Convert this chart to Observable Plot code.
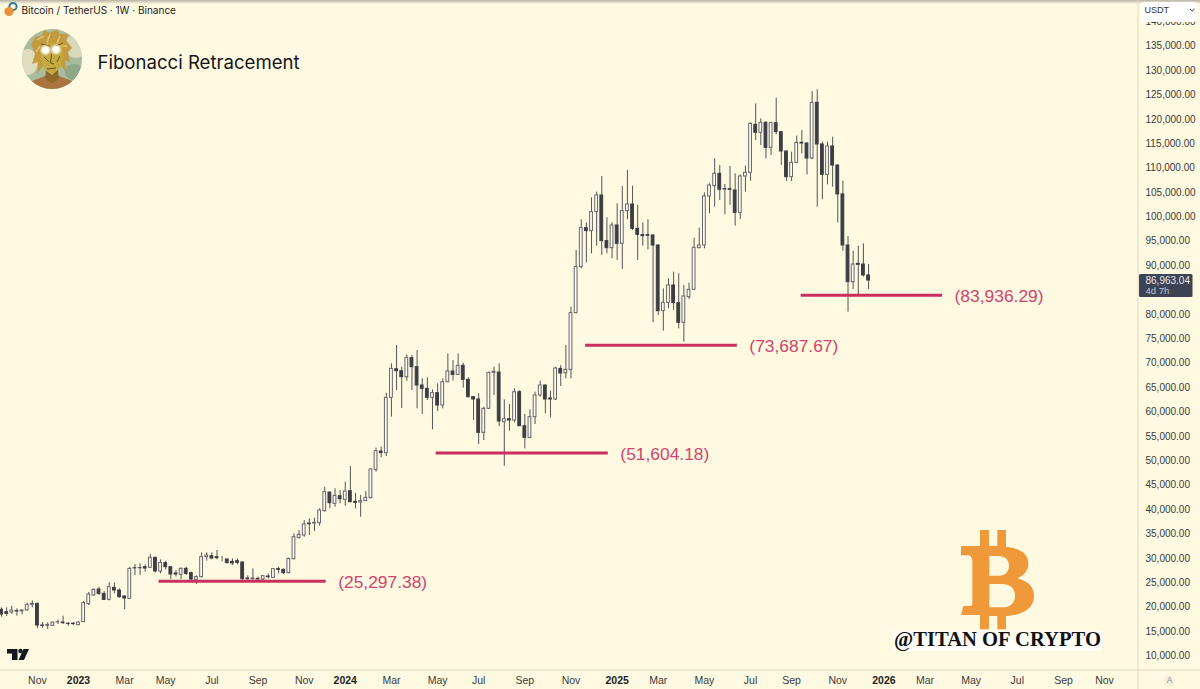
<!DOCTYPE html>
<html><head><meta charset="utf-8">
<script src="https://cdn.jsdelivr.net/npm/d3@7"></script>
<script src="https://cdn.jsdelivr.net/npm/@observablehq/plot@0.6"></script>
<style>html,body{margin:0;padding:0;background:#fef9e1;overflow:hidden}svg{display:block}</style>
</head><body><div id="chart"></div>
<script>
// Weekly candles (thousand USDT), first week opens 2022-09-19
const firstWeek = "2022-09-19";
const open = [19.46,18.98,18.91,19.20,19.15,19.33,20.49,20.69,16.25,16.18,16.18,16.90,16.86,16.60,16.60,
16.32,16.93,20.63,22.40,23.63,22.74,21.51,23.97,23.42,22.19,21.71,27.99,28.00,28.20,28.07,30.12,27.32,29.03,28.21,26.91,26.64,27.86,26.98,25.61,26.16,
30.26,30.46,30.26,30.12,29.78,29.30,29.43,29.16,25.88,25.75,25.82,25.68,26.29,26.02,27.80,27.66,26.98,29.84,34.21,34.70,
37.15,37.15,37.22,39.68,43.50,41.18,42.75,42.00,43.78,41.60,41.46,41.73,42.35,48.15,51.91,51.57,62.91,68.78,68.37,67.15,
71.04,69.20,65.44,64.75,62.91,63.87,61.34,66.12,68.31,67.62,69.47,66.60,63.05,62.57,55.74,60.66,68.03,68.10,57.92,58.54,
58.26,64.07,57.10,54.71,58.95,63.39,65.44,62.77,62.57,68.85,67.96,68.65,80.27,89.70,97.69,97.08,100.97,104.39,95.03,93.59,
98.24,94.48,101.18,102.54,97.55,96.26,96.26,96.19,94.14,80.68,82.39,85.94,82.32,78.29,83.55,85.05,93.59,94.14,104.18,106.30,
108.83,105.68,105.68,105.41,100.83,108.28,109.03,118.87,117.23,119.28,114.15,119.21,117.37,113.40,108.14,111.08,115.18,115.04,111.97,123.38,
114.84,108.62,114.43,110.53,104.60,94.14,86.62,90.38,90.24,88.00];
const high = [19.87,19.87,20.21,19.67,19.46,20.83,21.30,20.83,16.86,16.80,16.93,17.34,18.16,16.86,16.86,
17.00,21.17,23.01,23.76,24.10,23.22,24.99,24.99,23.76,22.40,28.20,28.75,28.89,28.68,30.80,30.26,29.71,29.44,28.34,27.52,28.07,28.21,27.18,26.43,31.14,
31.14,31.14,31.62,30.39,29.91,29.91,29.91,29.30,26.43,27.86,26.16,26.50,26.84,27.93,28.21,27.80,30.05,35.04,35.72,37.77,
38.10,38.25,40.16,44.60,43.58,44.26,43.92,45.62,48.84,43.37,42.89,43.71,48.36,52.60,52.80,63.87,69.88,73.64,69.20,71.72,
71.60,72.60,66.80,67.00,64.55,65.78,66.80,71.93,70.56,71.93,70.01,67.01,63.18,63.73,61.00,68.17,69.19,69.88,62.50,61.54,
64.75,64.41,59.50,60.45,64.07,66.33,65.57,64.28,69.19,69.54,73.64,81.50,93.10,99.40,98.78,103.90,105.07,108.28,99.81,98.78,
102.68,106.23,109.51,106.30,102.34,98.78,99.40,96.39,94.27,85.26,87.31,88.67,88.33,85.94,86.42,95.64,97.69,104.93,106.78,111.90,
110.53,106.64,110.33,108.83,108.62,110.40,119.28,123.17,120.10,119.55,119.42,124.33,117.50,113.54,113.27,116.55,117.71,115.18,125.70,126.04,
115.32,115.32,116.34,110.67,107.32,95.98,92.97,94.00,94.48,90.24];
const low = [17.96,18.09,18.50,18.16,18.44,19.19,19.87,15.57,15.70,15.43,16.11,16.45,16.45,16.11,16.18,
16.32,16.86,20.35,22.26,22.40,21.37,21.30,22.74,21.85,19.46,21.58,26.50,26.50,27.18,28.07,27.04,26.84,27.66,25.68,26.16,25.68,26.50,24.99,24.65,26.02,
29.44,29.71,29.71,29.30,28.89,28.55,28.68,24.99,25.33,25.33,25.33,25.20,25.81,25.88,26.84,26.70,26.84,29.71,33.94,34.35,
34.70,35.50,36.60,39.48,40.16,40.50,41.18,40.70,41.39,40.16,38.45,41.66,42.21,47.67,50.61,50.89,58.95,64.41,60.72,66.33,
64.41,60.66,59.50,62.36,56.35,60.11,60.66,65.98,66.33,67.49,64.89,62.91,58.26,53.34,54.16,60.52,63.39,57.03,48.90,56.08,
57.80,57.03,52.46,54.50,57.44,63.05,59.63,58.81,62.36,65.23,66.80,66.80,80.13,89.36,90.59,92.43,94.00,92.09,92.43,91.41,
91.06,89.22,99.40,97.21,91.06,94.00,93.25,78.29,79.79,76.58,81.16,80.82,77.06,74.33,83.07,84.92,93.46,93.46,100.63,102.00,
103.36,100.42,102.33,98.10,99.47,105.07,107.32,115.66,114.63,111.90,112.58,116.82,110.53,107.25,107.25,110.87,112.92,108.62,111.70,102.00,
103.50,106.57,106.09,98.78,92.97,80.47,85.12,83.75,87.65,85.12];
const close = [18.50,18.64,19.32,19.12,19.33,20.49,20.69,16.25,16.18,16.38,16.86,16.93,16.73,16.58,16.55,
16.86,20.83,22.60,23.56,22.74,21.51,24.11,23.42,22.06,21.78,27.86,27.97,27.99,27.93,30.12,27.32,29.09,28.21,26.70,26.70,27.86,26.84,25.68,26.16,30.26,
30.60,29.98,30.05,30.12,29.03,28.96,29.09,25.75,25.75,25.88,25.68,26.36,26.16,27.80,27.66,26.98,29.91,34.35,34.83,36.95,
37.00,37.30,39.82,43.58,41.32,42.82,42.14,43.71,41.53,41.39,41.73,42.41,48.22,51.98,51.57,62.91,68.85,68.37,67.15,71.11,
69.20,65.44,64.75,62.91,63.87,61.34,66.12,68.31,67.62,69.47,66.60,63.05,62.57,55.74,60.66,68.03,68.24,58.06,58.54,58.26,
64.07,57.10,54.71,58.95,63.39,65.44,62.57,62.57,68.92,67.90,68.65,80.27,89.70,97.69,97.08,100.97,104.39,95.03,93.59,98.24,
94.48,101.18,102.54,97.55,96.32,96.05,96.12,94.14,80.68,82.39,85.94,82.32,78.29,83.69,85.05,93.66,94.14,104.18,106.44,108.83,
105.55,105.61,105.55,100.83,108.28,109.03,119.07,117.23,119.28,114.15,119.21,117.37,113.40,108.14,111.08,115.18,115.04,111.97,123.38,114.84,
108.62,114.43,110.53,104.60,94.14,86.62,90.24,90.17,88.00,86.963];

// Horizontal levels
const levels = [25297.38, 51604.18, 73687.67, 83936.29];
const levelStart = ["2023-04-22","2024-05-04","2024-11-24","2025-09-14"];
const levelEnd = ["2023-12-06","2024-12-25","2025-06-19","2026-03-26"];

// Axis ticks (85,000 sits behind the last-price tag and is not shown)
const priceTicks = [10,15,20,25,30,35,40,45,50,55,60,65,70,75,80,90,95,100,105,110,115,120,125,130,135,140].map(k => k * 1000);
const monthTicks = ["2022-11-07","2023-03-06","2023-05-01","2023-07-03","2023-09-04","2023-11-06","2024-03-04","2024-05-06","2024-07-01","2024-09-02","2024-11-04","2025-03-03","2025-05-05","2025-07-07","2025-09-01","2025-11-03","2026-03-02","2026-05-04","2026-07-06","2026-09-07","2026-11-02"];
const yearTicks = ["2023-01-02","2024-01-01","2025-01-06","2026-01-05"];

const lastPrice = 86963.04;
const bg = "#fef9e1", ink = "#2f2f33", crimson = "#c9305d", labelRed = "#d2436c";
const sans = "'Liberation Sans', Arial, sans-serif", title = "Inter, 'Liberation Sans', sans-serif";

const day = 864e5;
const candles = open.map((o, i) => {
  const date = new Date(Date.parse(firstWeek) + i * 7 * day);
  return {date, o: o * 1000, h: high[i] * 1000, l: low[i] * 1000, c: close[i] * 1000};
});
const levelRows = levels.map((v, i) => ({v, a: new Date(levelStart[i]), b: new Date(levelEnd[i]), t: `(${d3.format(",.2f")(v)})`}));

function background() {
  const g = d3.create("svg:g");
  const defs = g.append("defs");
  const lg = defs.append("linearGradient").attr("id","topfade").attr("x1",0).attr("x2",0).attr("y1",0).attr("y2",1);
  lg.append("stop").attr("offset",0).attr("stop-color","#9a968a").attr("stop-opacity",.7);
  lg.append("stop").attr("offset",1).attr("stop-color","#9a968a").attr("stop-opacity",0);
  g.append("rect").attr("width",1200).attr("height",4).attr("fill","url(#topfade)");
  g.append("line").attr("x1",1138).attr("x2",1138).attr("y1",0).attr("y2",689).attr("stroke","#e0d9bf");
  g.append("line").attr("x1",0).attr("x2",1200).attr("y1",670).attr("y2",670).attr("stroke","#e0d9bf");
  return g.node();
}

function decorations(index, scales) {
  const g = d3.create("svg:g");
  // header pair icon
  g.append("circle").attr("cx",13).attr("cy",6.5).attr("r",3.6).attr("fill","none").attr("stroke","#2f7f8f").attr("stroke-width",2);
  g.append("circle").attr("cx",9).attr("cy",11.5).attr("r",4.6).attr("fill","#e9913a");
  // avatar
  const defs = g.append("defs");
  defs.append("clipPath").attr("id","av").append("circle").attr("cx",52).attr("cy",59).attr("r",30);
  const rg = defs.append("radialGradient").attr("id","glow");
  rg.append("stop").attr("offset",.45).attr("stop-color","#fff");
  rg.append("stop").attr("offset",1).attr("stop-color","#fff").attr("stop-opacity",0);
  const av = g.append("g").attr("clip-path","url(#av)");
  av.append("rect").attr("x",22).attr("y",29).attr("width",60).attr("height",60).attr("fill","#a8bc9e");
  av.append("ellipse").attr("cx",28).attr("cy",62).attr("rx",10).attr("ry",13).attr("fill","#e0dcc0");
  av.append("ellipse").attr("cx",76).attr("cy",46).attr("rx",11).attr("ry",12).attr("fill","#d9d8b8");
  av.append("ellipse").attr("cx",74).attr("cy",72).attr("rx",9).attr("ry",8).attr("fill","#8fa888");
  av.append("path").attr("d","M24 92 L32 81 L45 76 L59 76 L72 81 L80 92Z").attr("fill","#a9743f");
  av.append("path").attr("d","M46 70 L58 70 L59 79 L52 83 L45 79Z").attr("fill","#8e6a2a");
  av.append("path").attr("d","M31 44 L36 36 L41 37 L44 30 L50 33 L57 29 L60 34 L68 34 L66 40 L72 48 L68 52 L70 62 L65 60 L66 72 L61 66 L43 66 L37 74 L38 62 L32 64 L35 54Z").attr("fill","#c39a3e");
  av.append("path").attr("d","M37 40 L44 36 M50 34 L47 43 M60 36 L57 43 M67 46 L62 46 M36 52 L40 46").attr("stroke","#e3c773").attr("stroke-width",1.4).attr("fill","none");
  av.append("path").attr("d","M41 47 L50 42 L62 44 L63 57 L60 68 L52 75 L45 70 L41 58Z").attr("fill","#c5aa3e");
  av.append("path").attr("d","M44 57 L49 62 M60 56 L57 62 M51.5 54 L50.5 63 L54 64 M47 69 L56 68").attr("stroke","#5d4a22").attr("stroke-width",.9).attr("fill","none");
  av.append("path").attr("d","M41 44 L50 46 M56 46 L63 43").attr("stroke","#6b5322").attr("stroke-width",1).attr("fill","none");
  av.append("circle").attr("cx",45.5).attr("cy",50).attr("r",6).attr("fill","url(#glow)");
  av.append("circle").attr("cx",56).attr("cy",49.5).attr("r",6).attr("fill","url(#glow)");
  // TradingView mark
  const tv = g.append("g").attr("fill","#131722");
  tv.append("path").attr("d","M7 649H17.5V660H12V653.5H7Z");
  tv.append("circle").attr("cx",20.5).attr("cy",651).attr("r",2.2);
  tv.append("path").attr("d","M23.5 649H29L24 660H18.5Z");
  // bitcoin logo
  g.append("path").attr("transform","translate(880,520) scale(0.33333)").attr("fill","#f0993a").attr("fill-rule","evenodd")
    .attr("d","M300 30L327 30L327 78L352 78L352 30L378 30L378 80C425 85 445 105 445 130C445 155 430 168 412 175C445 185 462 200 462 228C462 265 430 285 378 288L378 328L352 328L352 288L327 288L327 328L300 328L300 285L243 285L250 258L270 258C275 258 277 255 277 250L277 125C277 112 272 106 262 106L243 106L243 78L300 78Z M328 108L328 167L360 167C380 165 387 150 387 137C387 120 375 108 355 108Z M328 192L328 262L365 262C395 262 405 245 405 227C405 205 390 192 365 192Z");
  g.append("rect").attr("x",893).attr("y",631).attr("width",208).attr("height",20).attr("fill","#fffef8");
  // USDT selector
  g.append("rect").attr("x",1141).attr("y",2).attr("width",56).attr("height",20).attr("rx",4).attr("fill","#ffffff");
  g.append("path").attr("d","M1190 9L1192.2 11L1194.4 9").attr("fill","none").attr("stroke","#333").attr("stroke-width",1);
  // last price tag
  const yTag = scales.y(lastPrice);
  g.append("rect").attr("x",1139).attr("y",yTag-6).attr("width",53.5).attr("height",23).attr("rx",1.5).attr("fill","#3e4255");
  // auto-scale button
  g.append("circle").attr("cx",1169).attr("cy",681).attr("r",6).attr("fill","#f6f1db");
  return g.node();
}

const chart = Plot.plot({
  width: 1200, height: 689,
  marginLeft: 0, marginRight: 62, marginTop: 0, marginBottom: 19,
  style: {background: bg, fontFamily: sans, color: ink},
  x: {type: "utc", domain: [new Date("2022-09-17T14:00Z"), new Date("2026-12-18T08:00Z")], label: null},
  y: {domain: [7028, 144350], label: null},
  marks: [
    background,
    Plot.ruleX(candles, {x: "date", y1: "l", y2: "h", stroke: "#55555a", strokeWidth: 1}),
    Plot.rect(candles, {
      x1: d => new Date(+d.date - 1.9 * day), x2: d => new Date(+d.date + 1.9 * day),
      y1: "o", y2: "c",
      fill: d => d.c >= d.o ? "#fffdf3" : "#3d3e44",
      stroke: d => d.c >= d.o ? "#66666a" : "#3d3e44",
      strokeWidth: 1
    }),
    Plot.ruleY(levelRows, {y: "v", x1: "a", x2: "b", stroke: crimson, strokeWidth: 3}),
    Plot.text(levelRows, {x: "b", y: "v", text: "t", dx: 12, dy: 1, textAnchor: "start", fill: labelRed, fontSize: 17.4}),
    Plot.axisY({anchor: "right", ticks: priceTicks, tickFormat: d3.format(",.2f"), tickSize: 0, tickPadding: 7, fontSize: 10, fill: "#3a3a3a", label: null}),
    Plot.axisX({anchor: "bottom", ticks: monthTicks.map(d => new Date(d)), tickFormat: d3.utcFormat("%b"), tickSize: 0, tickPadding: 6, fontSize: 10.5, fill: "#3a3a3a", label: null}),
    Plot.axisX({anchor: "bottom", ticks: yearTicks.map(d => new Date(d)), tickFormat: d3.utcFormat("%Y"), tickSize: 0, tickPadding: 6, fontSize: 10.5, fontWeight: "bold", fill: "#222", label: null}),
    decorations,
    Plot.text(["Bitcoin / TetherUS · 1W · Binance"], {frameAnchor: "top-left", dx: 21, dy: 6, textAnchor: "start", fontFamily: title, fontSize: 10, fill: "#222"}),
    Plot.text(["Fibonacci Retracement"], {frameAnchor: "top-left", dx: 97, dy: 55, textAnchor: "start", fontFamily: title, fontSize: 18.6, fill: "#16161a"}),
    Plot.text(["@TITAN OF CRYPTO"], {frameAnchor: "top-left", dx: 997, dy: 631, textAnchor: "middle", fontFamily: "'Liberation Serif', serif", fontWeight: "bold", fontSize: 20.6, fill: "#111"}),
    Plot.text(["USDT"], {frameAnchor: "top-left", dx: 1144, dy: 6.5, textAnchor: "start", fontSize: 9, fill: "#333"}),
    Plot.text(["86,963.04"], {y: () => lastPrice, frameAnchor: "right", dx: 7, textAnchor: "start", fontSize: 10, fill: "#e8eaf2"}),
    Plot.text(["4d 7h"], {y: () => lastPrice, frameAnchor: "right", dx: 7, dy: 10, textAnchor: "start", fontSize: 9.5, fill: "#c3c6d4"}),
    Plot.text(["A"], {frameAnchor: "top-left", dx: 1169, dy: 676, textAnchor: "middle", fontSize: 8.5, fill: "#8a8a8a"})
  ]
});
document.getElementById("chart").appendChild(chart);
</script></body></html>
